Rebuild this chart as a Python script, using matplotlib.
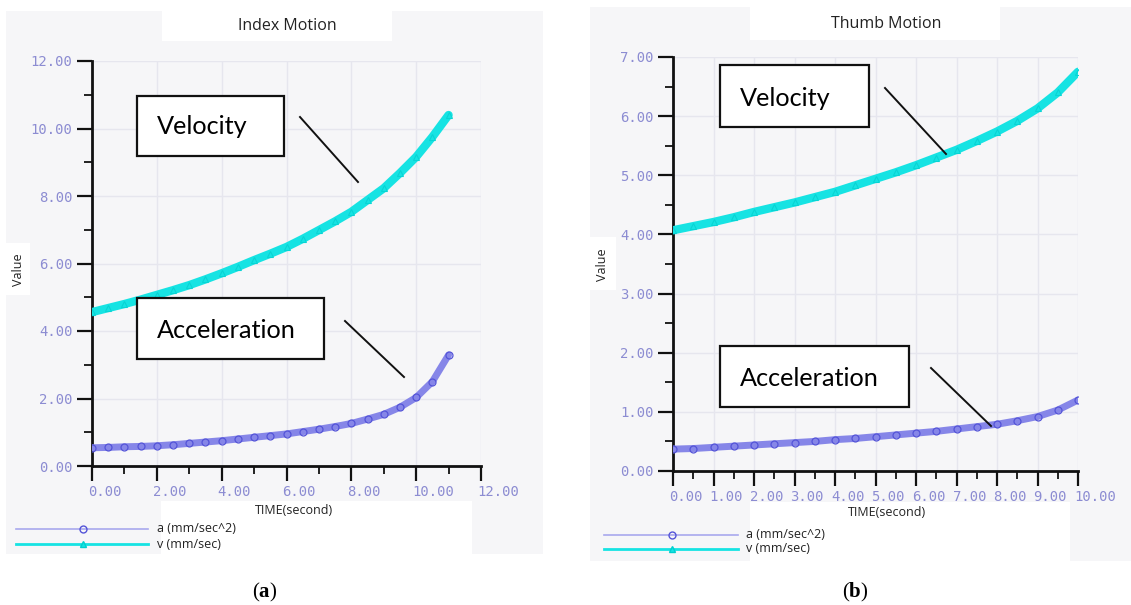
import matplotlib
matplotlib.use('Agg')
import matplotlib.pyplot as plt
from matplotlib.patches import Rectangle
from matplotlib.lines import Line2D
from matplotlib.ticker import MultipleLocator, FormatStrFormatter
from matplotlib.transforms import ScaledTranslation

# values
t_index = [0.0, 0.5, 1.0, 1.5, 2.0, 2.5, 3.0, 3.5, 4.0, 4.5, 5.0, 5.5,
           6.0, 6.5, 7.0, 7.5, 8.0, 8.5, 9.0, 9.5, 10.0, 10.5, 11.0]
v_index = [4.56, 4.68, 4.80, 4.93, 5.07, 5.21, 5.36, 5.53, 5.71, 5.90, 6.10, 6.29,
           6.49, 6.73, 6.99, 7.25, 7.53, 7.88, 8.23, 8.68, 9.16, 9.75, 10.40]
a_index = [0.54, 0.55, 0.57, 0.58, 0.60, 0.63, 0.67, 0.71, 0.75, 0.80, 0.85, 0.90,
           0.95, 1.02, 1.09, 1.17, 1.26, 1.39, 1.53, 1.74, 2.03, 2.50, 3.29]

t_thumb = [0.0, 0.5, 1.0, 1.5, 2.0, 2.5, 3.0, 3.5, 4.0, 4.5, 5.0,
           5.5, 6.0, 6.5, 7.0, 7.5, 8.0, 8.5, 9.0, 9.5, 10.0]
v_thumb = [4.07, 4.14, 4.21, 4.29, 4.38, 4.46, 4.54, 4.63, 4.72, 4.83, 4.94,
           5.05, 5.17, 5.30, 5.43, 5.58, 5.74, 5.92, 6.13, 6.40, 6.75]
a_thumb = [0.37, 0.38, 0.40, 0.42, 0.44, 0.46, 0.48, 0.50, 0.53, 0.55, 0.58,
           0.61, 0.64, 0.67, 0.71, 0.75, 0.79, 0.85, 0.92, 1.03, 1.20]

titles = ['Index Motion', 'Thumb Motion']
legend_labels = ['a (mm/sec^2)', 'v (mm/sec)']
panel_tags = ['a', 'b']

W, H = 1131, 605
BG = '#f6f6f8'
GRID = '#e6e6ee'
TICKCOL = '#8c8cd2'
CYAN = '#16e3e3'
PURPLE = '#5454d8'
PURPLE_BAND = '#8686e8'
PURPLE_LIGHT = '#a8a8ee'

plt.rcParams['mathtext.fontset'] = 'custom'
plt.rcParams['mathtext.rm'] = 'Liberation Serif'
plt.rcParams['mathtext.bf'] = 'Liberation Serif:bold'

fig = plt.figure(figsize=(W / 100, H / 100), dpi=100)
fig.patch.set_facecolor('white')


def fx(x):
    return x / W


def fy(y):
    return 1 - y / H


def box(x0, y0, x1, y1, fc, ec='none', lw=0, z=-1):
    fig.add_artist(Rectangle((fx(x0), fy(y1)), (x1 - x0) / W, (y1 - y0) / H,
                             transform=fig.transFigure, facecolor=fc,
                             edgecolor=ec, linewidth=lw, zorder=z))


def seg(x0, y0, x1, y1, **kw):
    fig.add_artist(Line2D([fx(x0), fx(x1)], [fy(y0), fy(y1)],
                          transform=fig.transFigure, **kw))


panels = [
    dict(t=t_index, v=v_index, a=a_index, bg=(6, 11, 543, 554), tbox=(162, 11, 392, 41),
         title_xy=(287, 26), ax=(92, 61, 481, 466), xlim=12, ylim=12,
         xmaj=2, xmin=1, ymaj=2, ymin=1,
         vbox=(137, 96, 284, 156), vtxt=(157, 127), vline=(300, 117, 358, 182),
         abox=(137, 298, 324, 359), atxt=(157, 330), aline=(345, 321, 404, 377),
         valbox=(6, 243, 30, 295), val_xy=(18, 270),
         timebox=(161, 501, 472, 554), time_xy=(294, 511),
         leg=(16, 148, 83, 157, 529, 544), tag_xy=(265, 592)),
    dict(t=t_thumb, v=v_thumb, a=a_thumb, bg=(590, 7, 1131, 561), tbox=(750, 7, 1000, 40),
         title_xy=(886, 24), ax=(673, 57, 1078, 471), xlim=10, ylim=7,
         xmaj=1, xmin=0.5, ymaj=1, ymin=0.5,
         vbox=(720, 65, 869, 127), vtxt=(740, 99), vline=(885, 88, 946, 154),
         abox=(720, 346, 909, 407), atxt=(740, 379), aline=(931, 368, 991, 426),
         valbox=(590, 237, 616, 290), val_xy=(602, 265),
         timebox=(750, 502, 1070, 561), time_xy=(887, 513),
         leg=(604, 738, 672, 746, 535, 549), tag_xy=(855, 592)),
]

for i, p in enumerate(panels):
    x0, y0, x1, y1 = p['bg']
    box(x0, y0, x1, y1, BG, z=-2)
    box(*p['tbox'], 'white', z=-1)
    fig.text(fx(p['title_xy'][0]), fy(p['title_xy'][1]), titles[i], ha='center', va='center',
             fontsize=11.5, family='Open Sans', color='#222222')

    ax0, ay0, ax1, ay1 = p['ax']
    ax = fig.add_axes([fx(ax0), fy(ay1), (ax1 - ax0) / W, (ay1 - ay0) / H])
    ax.patch.set_alpha(0)
    ax.set_xlim(0, p['xlim'])
    ax.set_ylim(0, p['ylim'])
    for s in ['top', 'right']:
        ax.spines[s].set_visible(False)
    for s in ['left', 'bottom']:
        ax.spines[s].set_linewidth(2)
        ax.spines[s].set_color('#111111')
    ax.xaxis.set_major_locator(MultipleLocator(p['xmaj']))
    ax.xaxis.set_minor_locator(MultipleLocator(p['xmin']))
    ax.yaxis.set_major_locator(MultipleLocator(p['ymaj']))
    ax.yaxis.set_minor_locator(MultipleLocator(p['ymin']))
    ax.xaxis.set_major_formatter(FormatStrFormatter('%.2f'))
    ax.yaxis.set_major_formatter(FormatStrFormatter('%.2f'))
    ax.tick_params(which='major', length=11, width=1.6, color='#111111', direction='out',
                   labelcolor=TICKCOL, labelsize=10, pad=3)
    ax.tick_params(which='minor', length=5.5, width=1.3, color='#111111', direction='out')
    shift = ScaledTranslation(-4 / 100, 0, fig.dpi_scale_trans)
    for lab in ax.get_xticklabels() + ax.get_yticklabels():
        lab.set_family('DejaVu Sans Mono')
    for lab in ax.get_xticklabels():
        lab.set_ha('left')
        lab.set_transform(lab.get_transform() + shift)
    ax.grid(True, which='major', color=GRID, linewidth=1)
    ax.set_axisbelow(True)

    ax.plot(p['t'], p['v'], color=CYAN, linewidth=6, solid_capstyle='round', zorder=3)
    ax.plot(p['t'], p['v'], linestyle='none', marker='^', markersize=4,
            markerfacecolor='none', markeredgecolor='#08d4d4', markeredgewidth=0.8, zorder=4)
    ax.plot(p['t'], p['a'], color=PURPLE_BAND, linewidth=5, solid_capstyle='round', zorder=3)
    ax.plot(p['t'], p['a'], linestyle='none', marker='o', markersize=5,
            markerfacecolor='none', markeredgecolor=PURPLE, markeredgewidth=0.9, zorder=4)

    # annotation boxes and leader lines
    box(*p['vbox'], 'white', ec='#111111', lw=1.6, z=5)
    box(*p['abox'], 'white', ec='#111111', lw=1.6, z=5)
    fig.text(fx(p['vtxt'][0]), fy(p['vtxt'][1]), 'Velocity', ha='left', va='center',
             fontsize=18.2, family='Lato', color='black', zorder=6)
    fig.text(fx(p['atxt'][0]), fy(p['atxt'][1]), 'Acceleration', ha='left', va='center',
             fontsize=18.2, family='Lato', color='black', zorder=6)
    seg(*p['vline'], color='#111111', linewidth=1.4, zorder=6)
    seg(*p['aline'], color='#111111', linewidth=1.4, zorder=6)

    # axis labels
    box(*p['valbox'], 'white', z=-1)
    fig.text(fx(p['val_xy'][0]), fy(p['val_xy'][1]), 'Value', rotation=90, ha='center',
             va='center', fontsize=9, family='Open Sans', color='#222222')
    box(*p['timebox'], 'white', z=-1)
    fig.text(fx(p['time_xy'][0]), fy(p['time_xy'][1]), 'TIME(second)', ha='center',
             va='center', fontsize=9, family='Open Sans', color='#222222')

    # legend
    lx0, lx1, mx, tx, ya, yv = p['leg']
    seg(lx0, ya, lx1, ya, color=PURPLE_LIGHT, linewidth=1.2, zorder=2)
    fig.add_artist(Line2D([fx(mx)], [fy(ya)], transform=fig.transFigure, marker='o',
                          markersize=5, markerfacecolor='none', markeredgecolor=PURPLE,
                          linestyle='none', zorder=3))
    seg(lx0, yv, lx1, yv, color=CYAN, linewidth=2, zorder=2)
    fig.add_artist(Line2D([fx(mx)], [fy(yv)], transform=fig.transFigure, marker='^',
                          markersize=5, markerfacecolor=CYAN, markeredgecolor='#00cfcf',
                          linestyle='none', zorder=3))
    fig.text(fx(tx), fy(ya), legend_labels[0], ha='left', va='center', fontsize=9,
             family='Open Sans', color='#222222')
    fig.text(fx(tx), fy(yv), legend_labels[1], ha='left', va='center', fontsize=9,
             family='Open Sans', color='#222222')

    fig.text(fx(p['tag_xy'][0]), fy(p['tag_xy'][1]),
             r'$\mathrm{(}\mathbf{%s}\mathrm{)}$' % panel_tags[i],
             ha='center', va='center', fontsize=15, color='black')

fig.savefig('out.png', dpi=100, facecolor='white')
